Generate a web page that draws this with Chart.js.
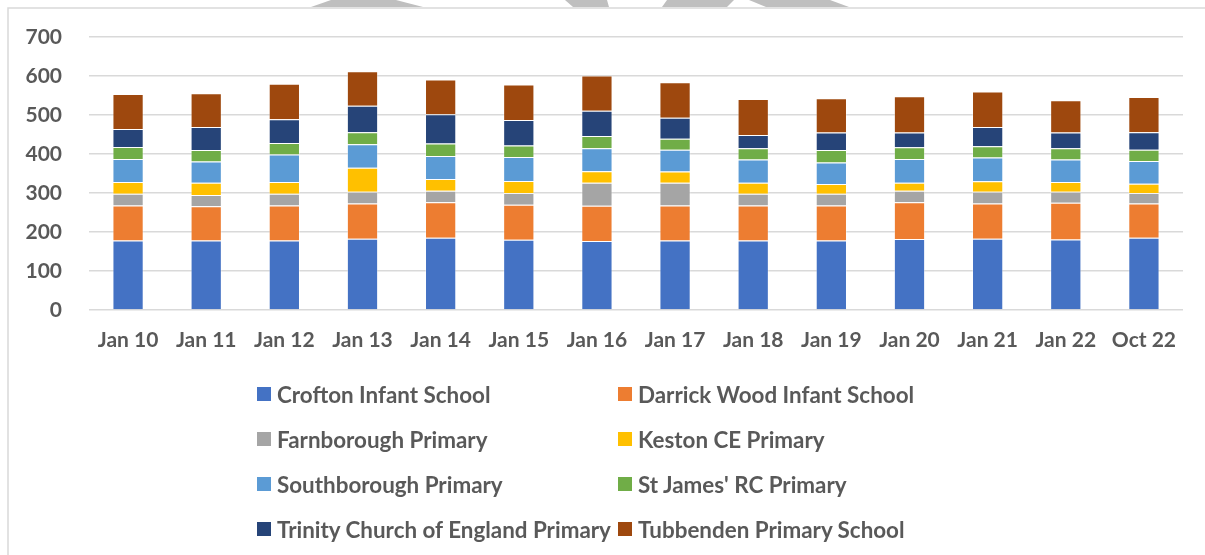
<!DOCTYPE html>
<html>
<head>
<meta charset="utf-8">
<script src="https://cdn.jsdelivr.net/npm/chart.js@4.4.1/dist/chart.umd.min.js"></script>
<style>
    html, body { margin: 0; padding: 0; background: #fff; }
    #wrap { position: relative; width: 1205px; height: 555px; overflow: hidden; }
    #chart { position: absolute; left: 0; top: 0; }
    .leg { position: absolute; height: 24px; display: flex; align-items: center;
           font-family: Lato, "Open Sans", sans-serif; font-weight: bold; font-size: 22.4px;
           color: #595959; white-space: nowrap; }
    .leg span.box { width: 14px; height: 14px; margin-right: 6px; display: inline-block; }
</style>
</head>
<body>
<div id="wrap">
    <canvas id="chart" width="1205" height="555"></canvas>
    <div id="legend"></div>
</div>
<script>
// Dados
const periods = ['Jan 10', 'Jan 11', 'Jan 12', 'Jan 13', 'Jan 14', 'Jan 15', 'Jan 16',
                 'Jan 17', 'Jan 18', 'Jan 19', 'Jan 20', 'Jan 21', 'Jan 22', 'Oct 22'];
const yTicks = [0, 100, 200, 300, 400, 500, 600, 700];

const crofton      = [178, 178, 178, 183, 185, 180, 177, 178, 178, 178, 182, 183, 181, 185];
const darrickWood  = [90, 88, 90, 90, 91, 90, 90, 90, 90, 90, 94, 90, 94, 88];
const farnborough  = [30, 29, 30, 30, 30, 30, 59, 58, 30, 30, 30, 30, 28, 27];
const keston       = [30, 31, 30, 62, 30, 31, 30, 29, 28, 25, 20, 27, 25, 24];
const southborough = [59, 55, 71, 60, 59, 61, 59, 56, 60, 55, 61, 61, 58, 58];
const stJames      = [31, 29, 29, 31, 32, 30, 31, 28, 29, 32, 30, 29, 29, 29];
const trinity      = [46, 59, 61, 68, 75, 65, 65, 54, 34, 45, 38, 49, 40, 45];
const tubbenden    = [90, 87, 91, 88, 89, 91, 90, 91, 92, 88, 93, 91, 83, 90];

const schools = [
    { name: 'Crofton Infant School', data: crofton, color: '#4472C4' },
    { name: 'Darrick Wood Infant School', data: darrickWood, color: '#ED7D31' },
    { name: 'Farnborough Primary', data: farnborough, color: '#A5A5A5' },
    { name: 'Keston CE Primary', data: keston, color: '#FFC000' },
    { name: 'Southborough Primary', data: southborough, color: '#5B9BD5' },
    { name: "St James' RC Primary", data: stJames, color: '#70AD47' },
    { name: 'Trinity Church of England Primary', data: trinity, color: '#264478' },
    { name: 'Tubbenden Primary School', data: tubbenden, color: '#9E480E' }
];

const textColor = '#595959';
const fontFamily = 'Lato, "Open Sans", sans-serif';

// Moldura e formas cinzentas no topo
const framePlugin = {
    id: 'frame',
    beforeDraw(chart) {
        const ctx = chart.ctx;
        ctx.save();
        ctx.fillStyle = '#bfbfbf';
        const shapes = [
            [[331, 0], [396, 0], [423, 7], [311, 7]],
            [[565, 0], [607, 0], [609, 7], [573, 7]],
            [[667, 0], [734, 0], [727, 7], [662, 7]],
            [[749, 0], [830, 0], [849, 7], [766, 7]]
        ];
        shapes.forEach(s => {
            ctx.beginPath();
            ctx.moveTo(s[0][0], s[0][1]);
            s.slice(1).forEach(p => ctx.lineTo(p[0], p[1]));
            ctx.closePath();
            ctx.fill();
        });
        ctx.strokeStyle = '#d9d9d9';
        ctx.lineWidth = 1.5;
        ctx.beginPath();
        ctx.moveTo(8, 560);
        ctx.lineTo(8, 8);
        ctx.lineTo(1210, 8);
        ctx.stroke();
        ctx.restore();
    }
};

const ctx = document.getElementById('chart').getContext('2d');
const schoolChart = new Chart(ctx, {
    type: 'bar',
    data: {
        labels: periods,
        datasets: schools.map(s => ({
            label: s.name,
            data: s.data,
            backgroundColor: s.color,
            borderColor: 'rgba(255,255,255,0.35)',
            borderWidth: 1,
            categoryPercentage: 1,
            barPercentage: 0.4
        }))
    },
    options: {
        responsive: false,
        animation: false,
        layout: { padding: { left: 0, right: 22, top: 37, bottom: 185 } },
        plugins: {
            legend: { display: false },
            tooltip: { enabled: false }
        },
        scales: {
            x: {
                stacked: true,
                grid: { display: false, drawTicks: false },
                border: { display: false },
                ticks: {
                    color: textColor,
                    padding: 18,
                    font: { family: fontFamily, size: 21, weight: 'bold' }
                },
                afterFit(scale) { scale.height = 60; }
            },
            y: {
                stacked: true,
                min: yTicks[0],
                max: yTicks[yTicks.length - 1],
                afterBuildTicks(scale) { scale.ticks = yTicks.map(v => ({ value: v })); },
                grid: { color: '#d9d9d9', lineWidth: 1.5, drawTicks: false },
                border: { display: false },
                ticks: {
                    color: textColor,
                    padding: 27,
                    font: { family: fontFamily, size: 21, weight: 'bold' }
                },
                afterFit(scale) {
                    scale.width = 89;
                    scale.paddingTop = 0;
                    scale.paddingBottom = 0;
                }
            }
        }
    },
    plugins: [framePlugin]
});

// Legenda em duas colunas
const legend = document.getElementById('legend');
const colLeft = [257, 618];
const rowTop = [382, 427, 472, 517];
schools.forEach((s, i) => {
    const item = document.createElement('div');
    item.className = 'leg';
    item.style.left = colLeft[i % 2] + 'px';
    item.style.top = rowTop[Math.floor(i / 2)] + 'px';
    item.innerHTML = `<span class="box" style="background:${s.color}"></span>${s.name}`;
    legend.appendChild(item);
});
</script>
</body>
</html>
